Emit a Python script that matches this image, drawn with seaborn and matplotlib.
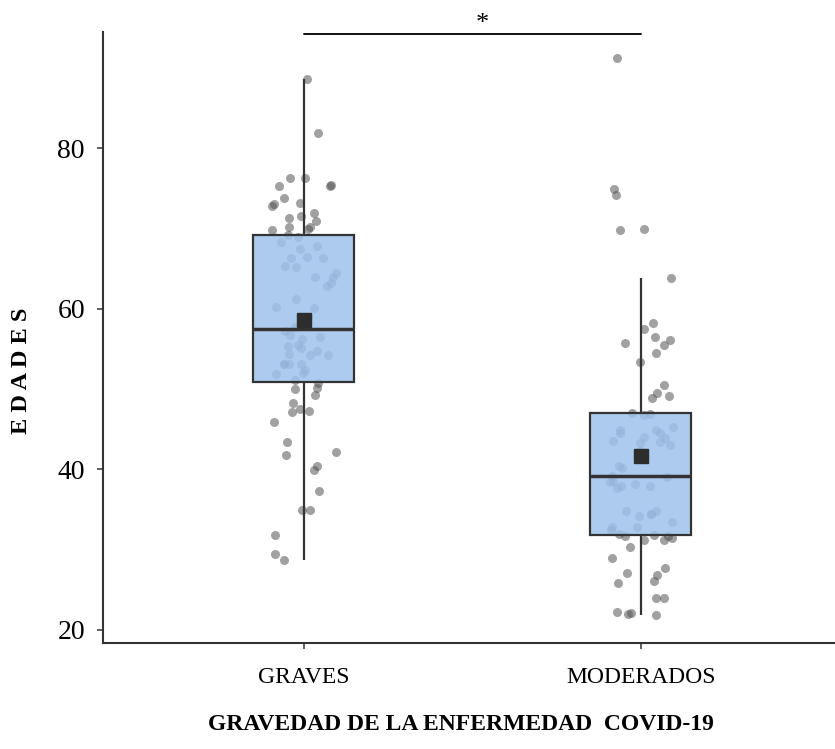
import numpy as np
import pandas as pd
import matplotlib
matplotlib.use("Agg")
import matplotlib.pyplot as plt
import matplotlib.colors as mcolors
import seaborn as sns

sns.set_style("ticks")
plt.rcParams['font.family'] = ['Liberation Serif', 'DejaVu Serif']
plt.rcParams['text.color'] = 'black'
plt.rcParams['axes.labelcolor'] = 'black'
plt.rcParams['xtick.labelcolor'] = 'black'
plt.rcParams['ytick.labelcolor'] = 'black'

categories = ['GRAVES', 'MODERADOS']
graves = [88.6, 81.9, 76.3, 76.3, 75.3, 75.4, 75.3, 73.8, 73.1, 73.2, 72.8, 71.6, 71.9, 71.3, 71.0,
          70.2, 69.8, 69.9, 69.2, 69.0, 70.2,
          67.8, 67.5, 68.3, 66.5, 66.4, 66.3, 65.3, 65.2, 64.0, 64.5, 64.0, 63.2, 62.9, 61.2, 60.2,
          60.1, 59.0, 57.7, 57.2,
          55.5, 56.2, 55.4, 56.8, 55.1, 54.2, 54.2, 54.4, 53.2, 53.2, 53.1, 53.2, 52.4, 51.9, 52.0,
          51.1, 50.8, 56.5, 54.8,
          50.2, 50.0, 49.3, 48.3, 47.3, 47.1, 47.5, 45.9, 43.4, 42.2, 41.8, 40.4, 39.9, 37.3, 34.9,
          34.9, 31.8, 29.5, 28.7]
moderados = [91.2, 75.0, 74.2, 70.0, 69.8, 63.8, 58.3, 57.5, 56.5, 55.7, 56.1, 55.5, 54.5, 53.4,
             50.5, 49.5, 48.9, 49.1, 46.9, 47.0,
             46.8, 44.9, 44.6, 44.9, 44.5, 45.3, 43.9, 44.0, 43.5, 43.3, 43.0, 43.4, 42.3, 41.3,
             40.2, 40.4, 39.2, 39.0,
             37.9, 37.7, 38.2, 38.4, 38.0, 34.8, 34.4, 34.2, 34.8, 34.4, 33.4, 32.8, 32.8, 32.4, 38.6,
             31.4, 31.2, 31.2, 32.0, 31.7, 31.8, 31.7, 30.3, 29.0, 27.7, 27.1, 26.8, 25.8, 26.1,
             24.0, 24.0, 22.1, 21.9, 22.3, 22.0]
y_ticks = [20, 40, 60, 80]
x_label = 'GRAVEDAD DE LA ENFERMEDAD  COVID-19'
y_label = 'E D A D E S'
sig_label = '*'
sig_pair = [0, 1]
sig_y = 94.2

df = pd.DataFrame({
    'grupo': [categories[0]] * len(graves) + [categories[1]] * len(moderados),
    'edad': graves + moderados,
})

fig = plt.figure(figsize=(8.35, 7.49), dpi=100)
ax = fig.add_axes([103 / 835, 1 - 643 / 749, 732 / 835, 611 / 749])

np.random.seed(3)
sns.stripplot(data=df, x='grupo', y='edad', order=categories, jitter=0.1,
              color='#555555', alpha=0.55, size=6.5, linewidth=0, ax=ax, zorder=1)
sns.boxplot(data=df, x='grupo', y='edad', order=categories, width=0.3, whis=1.3,
            showcaps=False, showfliers=False, showmeans=True, saturation=1,
            color='#9fc1ed', linecolor='#333333', linewidth=1.6,
            meanprops=dict(marker='s', markerfacecolor='#2d2d2d', markeredgecolor='#2d2d2d',
                           markersize=10.5),
            medianprops=dict(linewidth=2.5, color='#333333'),
            ax=ax, zorder=2)
for p in ax.patches:
    p.set_facecolor(mcolors.to_rgba('#9fc1ed', 0.85))

ax.set_xlim(-0.596, 1.576)
ax.set_ylim(18.38, 94.5)
ax.set_yticks(y_ticks)
sns.despine(ax=ax)
for s in ['left', 'bottom']:
    ax.spines[s].set_linewidth(1.5)
    ax.spines[s].set_color('#333333')
ax.tick_params(axis='y', labelsize=20, pad=9, length=4, width=1.1, color='#333333')
ax.tick_params(axis='x', labelsize=17, pad=13, length=4, width=1.1, color='#333333')

ax.set_xlabel(x_label, fontsize=17, fontweight='bold')
ax.xaxis.label.set_va('center')
ax.xaxis.set_label_coords(0.489, -0.134)
ax.set_ylabel(y_label, fontsize=17.5, fontweight='bold')
ax.yaxis.label.set_va('center')
ax.yaxis.set_label_coords(-0.111, 0.445)

ax.plot(sig_pair, [sig_y, sig_y], color='#111111', lw=1.4, clip_on=False)
ax.text(np.mean(sig_pair) + 0.03, sig_y + 1.3, sig_label, ha='center', va='center',
        fontsize=19, clip_on=False)

fig.savefig('out.png', dpi=100)
